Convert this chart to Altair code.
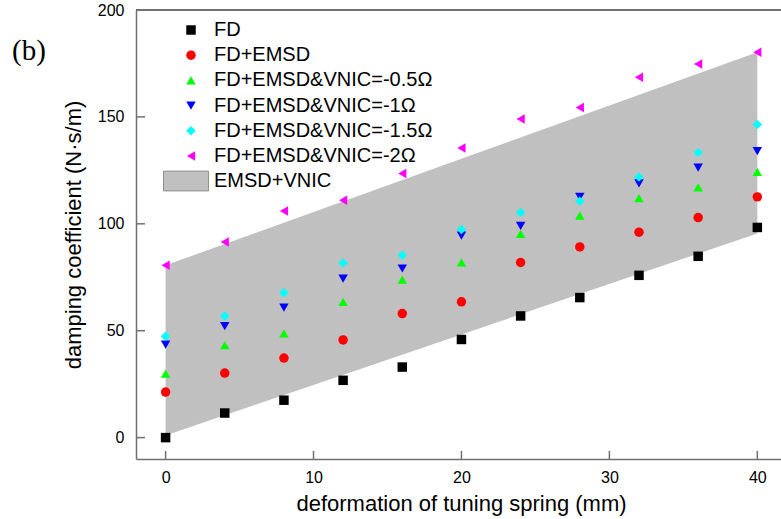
import altair as alt
import pandas as pd

# ---- data ----
x_vals = [0, 4, 8, 12, 16, 20, 24, 28, 32, 36, 40]
series_names = ["FD", "FD+EMSD", "FD+EMSD&VNIC=-0.5Ω", "FD+EMSD&VNIC=-1Ω",
                "FD+EMSD&VNIC=-1.5Ω", "FD+EMSD&VNIC=-2Ω"]
fd = [0, 11.5, 17.5, 26.8, 33.0, 45.9, 56.9, 65.5, 75.9, 84.8, 98.3]
fd_emsd = [21.3, 30.2, 37.2, 45.7, 58.0, 63.5, 81.9, 89.2, 96.1, 102.9, 112.6]
vnic_05 = [29.9, 43.2, 48.7, 63.5, 73.9, 82.0, 95.3, 103.8, 112.0, 117.0, 124.3]
vnic_1 = [43.5, 52.1, 60.8, 74.4, 79.1, 94.5, 99.0, 112.6, 118.9, 126.3, 134.0]
vnic_15 = [47.4, 56.9, 67.8, 81.7, 85.3, 97.3, 105.3, 110.6, 121.9, 133.4, 146.5]
vnic_2 = [80.6, 91.5, 106.0, 111.0, 123.5, 135.5, 149.0, 154.4, 168.5, 174.7, 180.2]
band_x = [0, 40]
band_low = [1.0, 95.5]
band_high = [80.6, 180.2]
x_ticks = [0, 10, 20, 30, 40]
y_ticks = [0, 50, 100, 150, 200]

colors = ["#000000", "#FF0000", "#00FF00", "#0000FF", "#00FFFF", "#FF00FF"]
shapes = ["square", "circle", "triangle-up", "triangle-down", "diamond", "triangle-left"]

rows = []
for name, vals in zip(series_names, [fd, fd_emsd, vnic_05, vnic_1, vnic_15, vnic_2]):
    for xv, yv in zip(x_vals, vals):
        rows.append({"x": xv, "y": yv, "series": name})
pts = pd.DataFrame(rows)
band = pd.DataFrame({"x": band_x, "low": band_low, "high": band_high, "band": ["EMSD+VNIC"] * 2})

W, H = 645, 449
AXC = "#707070"
FONT = "Liberation Sans"

xs = alt.Scale(domain=[-2, 41.6], nice=False, zero=False)
ys = alt.Scale(domain=[-10, 200], nice=False, zero=False)

area = alt.Chart(band).mark_area(opacity=1).encode(
    x=alt.X("x:Q", scale=xs,
            axis=alt.Axis(values=x_ticks, title="deformation of tuning spring (mm)",
                          grid=False, ticks=False, labelPadding=10, titlePadding=8,
                          titleX=325)),
    y=alt.Y("low:Q", scale=ys,
            axis=alt.Axis(values=y_ticks, title="damping coefficient (N·s/m)",
                          grid=False, ticks=False, labelPadding=12, titlePadding=12)),
    y2="high:Q",
    fill=alt.Fill("band:N", scale=alt.Scale(domain=["EMSD+VNIC"], range=["#C0C0C0"]),
                  legend=alt.Legend(title=None, orient="none", legendX=27, legendY=148,
                                    symbolType="M-1,-0.44H1V0.44H-1Z", symbolSize=2025,
                                    symbolStrokeColor="#909090", symbolStrokeWidth=1,
                                    symbolFillColor="#C0C0C0", labelOffset=5,
                                    labelFontSize=20, labelFont=FONT, padding=0,
                                    labelLimit=0)),
)

leg = alt.Legend(title=None, orient="none", legendX=45, legendY=10,
                 symbolSize=90, labelOffset=13, rowPadding=5.2,
                 labelFontSize=20, labelFont=FONT, padding=0,
                 symbolStrokeWidth=0, labelLimit=0)

points = alt.Chart(pts).mark_point(filled=True, size=90, opacity=1).encode(
    x=alt.X("x:Q", scale=xs),
    y=alt.Y("y:Q", scale=ys),
    color=alt.Color("series:N", sort=series_names,
                    scale=alt.Scale(domain=series_names, range=colors), legend=leg),
    shape=alt.Shape("series:N", sort=series_names,
                    scale=alt.Scale(domain=series_names, range=shapes), legend=leg),
)

xtick_df = pd.DataFrame({"x": x_ticks})
ytick_df = pd.DataFrame({"y": y_ticks})

xticks = alt.Chart(xtick_df).mark_rule(color=AXC, strokeWidth=1.5).encode(
    x=alt.X("x:Q", scale=xs), y=alt.value(H), y2=alt.value(H - 8))
yticks = alt.Chart(ytick_df).mark_rule(color=AXC, strokeWidth=1.5).encode(
    y=alt.Y("y:Q", scale=ys), x=alt.value(0), x2=alt.value(9))
top_line = alt.Chart(xtick_df).mark_rule(color=AXC, strokeWidth=1.5).encode(
    x=alt.value(0), x2=alt.value(W), y=alt.value(0))

label_b = alt.Chart(pd.DataFrame({"t": ["(b)"]})).mark_text(
    font="Liberation Serif", fontSize=29, align="left", baseline="middle", color="#000000"
).encode(text="t:N", x=alt.value(-124), y=alt.value(41))

chart = alt.layer(area, points, xticks, yticks, top_line, label_b).properties(
    width=W, height=H,
    autosize=alt.AutoSizeParams(type="none"),
    padding={"left": 136, "top": 10, "right": 0, "bottom": 60},
    background="white",
).configure_view(stroke=None).configure_axis(
    domainColor=AXC, domainWidth=1.5, labelFont=FONT, labelFontSize=16,
    labelColor="#000000", titleFont=FONT, titleFontSize=22, titleColor="#000000",
    titleFontWeight="normal",
)

chart.save("out.html", embed_options={"renderer": "svg", "actions": False})
